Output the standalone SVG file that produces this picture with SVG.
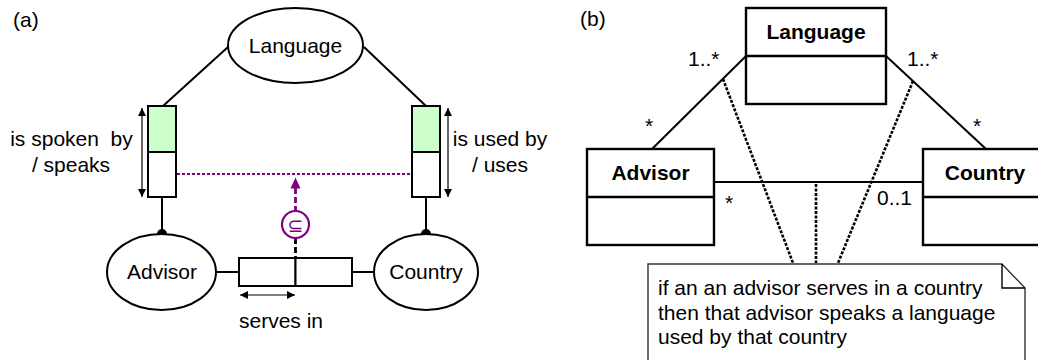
<svg xmlns="http://www.w3.org/2000/svg" width="1038" height="360" viewBox="0 0 1038 360">
  <defs>
    <style>
      text { font-family: "Liberation Sans", Arial, sans-serif; font-size: 21px; fill: #000; }
      .mid { text-anchor: middle; }
      .bold { font-weight: bold; }
      .ent { fill: #fff; stroke: #000; stroke-width: 2; }
      .role { fill: #fff; stroke: #000; stroke-width: 2; }
      .green { fill: #ccffcc; }
      .line { fill: none; stroke: #000; stroke-width: 2; }
      .span { fill: none; stroke: #000; stroke-width: 1.2; }
      .subset { fill: none; stroke: #800080; stroke-width: 2.2; stroke-dasharray: 3 2; }
      .subset-v { fill: none; stroke: #800080; stroke-width: 2.8; stroke-dasharray: 6 3; }
      .cls { fill: #fff; stroke: #000; stroke-width: 2.4; }
      .assoc { fill: none; stroke: #000; stroke-width: 2; }
      .anchor { fill: none; stroke: #000; stroke-width: 2.6; stroke-dasharray: 3 1.5; }
      .note { fill: #fff; stroke: #333; stroke-width: 1.4; }
    </style>
    <marker id="tip" viewBox="0 0 10 10" refX="10" refY="5" markerWidth="8" markerHeight="8" markerUnits="userSpaceOnUse" orient="auto-start-reverse">
      <path d="M0,0 L10,5 L0,10 Z" fill="#000"/>
    </marker>
  </defs>

  <!-- (a) ORM schema -->
  <text x="13" y="27">(a)</text>

  <g id="connectors-a">
    <line class="line" x1="228" y1="47" x2="163" y2="106"/>
    <line class="line" x1="364" y1="47" x2="426" y2="106"/>
    <line class="line" x1="162" y1="197" x2="162" y2="234"/>
    <line class="line" x1="426" y1="197" x2="426" y2="234"/>
    <circle cx="162" cy="234" r="5" fill="#000"/>
    <circle cx="426" cy="234" r="5" fill="#000"/>
    <line class="line" x1="216" y1="272" x2="239" y2="272"/>
    <line class="line" x1="352" y1="272" x2="374" y2="272"/>
    <!-- uniqueness spans -->
    <line class="span" x1="142" y1="108" x2="142" y2="197" marker-start="url(#tip)" marker-end="url(#tip)"/>
    <line class="span" x1="448" y1="108" x2="448" y2="197" marker-start="url(#tip)" marker-end="url(#tip)"/>
    <line class="span" x1="240" y1="295" x2="295" y2="295" marker-start="url(#tip)" marker-end="url(#tip)"/>
    <!-- subset constraint -->
    <line class="subset" x1="177" y1="174" x2="412" y2="174"/>
    <line class="subset-v" x1="295.5" y1="188" x2="295.5" y2="211"/>
    <path d="M295.5,177.5 L300.5,188.5 L290.5,188.5 Z" fill="#800080"/>
    <line x1="295.5" y1="238" x2="295.5" y2="258" stroke="#000" stroke-width="2.8" stroke-dasharray="6 3"/>
  </g>

  <g id="subset-constraint">
    <circle cx="295.5" cy="224.5" r="13.5" fill="#fff" stroke="#800080" stroke-width="2.2"/>
    <text x="295.5" y="231.5" class="mid" style="font-family: 'DejaVu Sans', sans-serif; font-size: 19px; fill: #800080;">⊆</text>
  </g>

  <g id="language-a">
    <ellipse class="ent" cx="295.5" cy="45.5" rx="67.5" ry="37.5"/>
    <text x="295.5" y="53" class="mid">Language</text>
  </g>

  <g id="advisor-a">
    <ellipse class="ent" cx="161.5" cy="272" rx="54.5" ry="38"/>
    <text x="162" y="279" class="mid">Advisor</text>
  </g>

  <g id="country-a">
    <ellipse class="ent" cx="426" cy="272" rx="52" ry="38"/>
    <text x="426" y="279" class="mid">Country</text>
  </g>

  <g id="speaks-fact">
    <rect class="role green" x="148" y="106" width="28" height="46"/>
    <rect class="role" x="148" y="152" width="28" height="45"/>
    <text x="71.5" y="146" class="mid" xml:space="preserve">is spoken  by</text>
    <text x="71" y="172" class="mid">/ speaks</text>
  </g>

  <g id="uses-fact">
    <rect class="role green" x="412" y="106" width="28" height="46"/>
    <rect class="role" x="412" y="152" width="28" height="45"/>
    <text x="500" y="146" class="mid">is used by</text>
    <text x="500" y="172" class="mid">/ uses</text>
  </g>

  <g id="serves-fact">
    <rect class="role" x="239" y="258" width="56.5" height="28"/>
    <rect class="role" x="295.5" y="258" width="56.5" height="28"/>
    <text x="281" y="328" class="mid">serves in</text>
  </g>

  <!-- (b) UML class diagram -->
  <text x="580" y="26">(b)</text>

  <g id="connectors-b">
    <line class="assoc" x1="746" y1="56" x2="652" y2="149"/>
    <line class="assoc" x1="886" y1="56" x2="986" y2="149"/>
    <line class="assoc" x1="714" y1="182" x2="923" y2="182"/>
    <line class="anchor" x1="723" y1="79" x2="793" y2="263"/>
    <line class="anchor" x1="913" y1="81" x2="838" y2="263"/>
    <line class="anchor" x1="816" y1="184" x2="816" y2="263"/>
    <text x="688" y="66">1..*</text>
    <text x="907" y="66">1..*</text>
    <text x="645" y="133">*</text>
    <text x="973" y="133">*</text>
    <text x="725" y="210">*</text>
    <text x="877" y="205">0..1</text>
  </g>

  <g id="language-b">
    <rect class="cls" x="746" y="8" width="140" height="96"/>
    <line class="cls" x1="746" y1="56" x2="886" y2="56"/>
    <text x="816" y="39" class="mid bold">Language</text>
  </g>

  <g id="advisor-b">
    <rect class="cls" x="587" y="149" width="127" height="96"/>
    <line class="cls" x1="587" y1="197" x2="714" y2="197"/>
    <text x="650.5" y="180" class="mid bold">Advisor</text>
  </g>

  <g id="country-b">
    <rect class="cls" x="923" y="149" width="130" height="96"/>
    <line class="cls" x1="923" y1="197" x2="1053" y2="197"/>
    <text x="985" y="180" class="mid bold">Country</text>
  </g>

  <g id="note">
    <path class="note" d="M648,370 L648,264 L1002,264 L1025,288 L1025,370"/>
    <path d="M1002,264 L1002,288 L1025,288" fill="none" stroke="#000" stroke-width="1.4"/>
    <text x="658" y="295">if an an advisor serves in a country</text>
    <text x="658" y="320">then that advisor speaks a language</text>
    <text x="658" y="344">used by that country</text>
  </g>
</svg>
